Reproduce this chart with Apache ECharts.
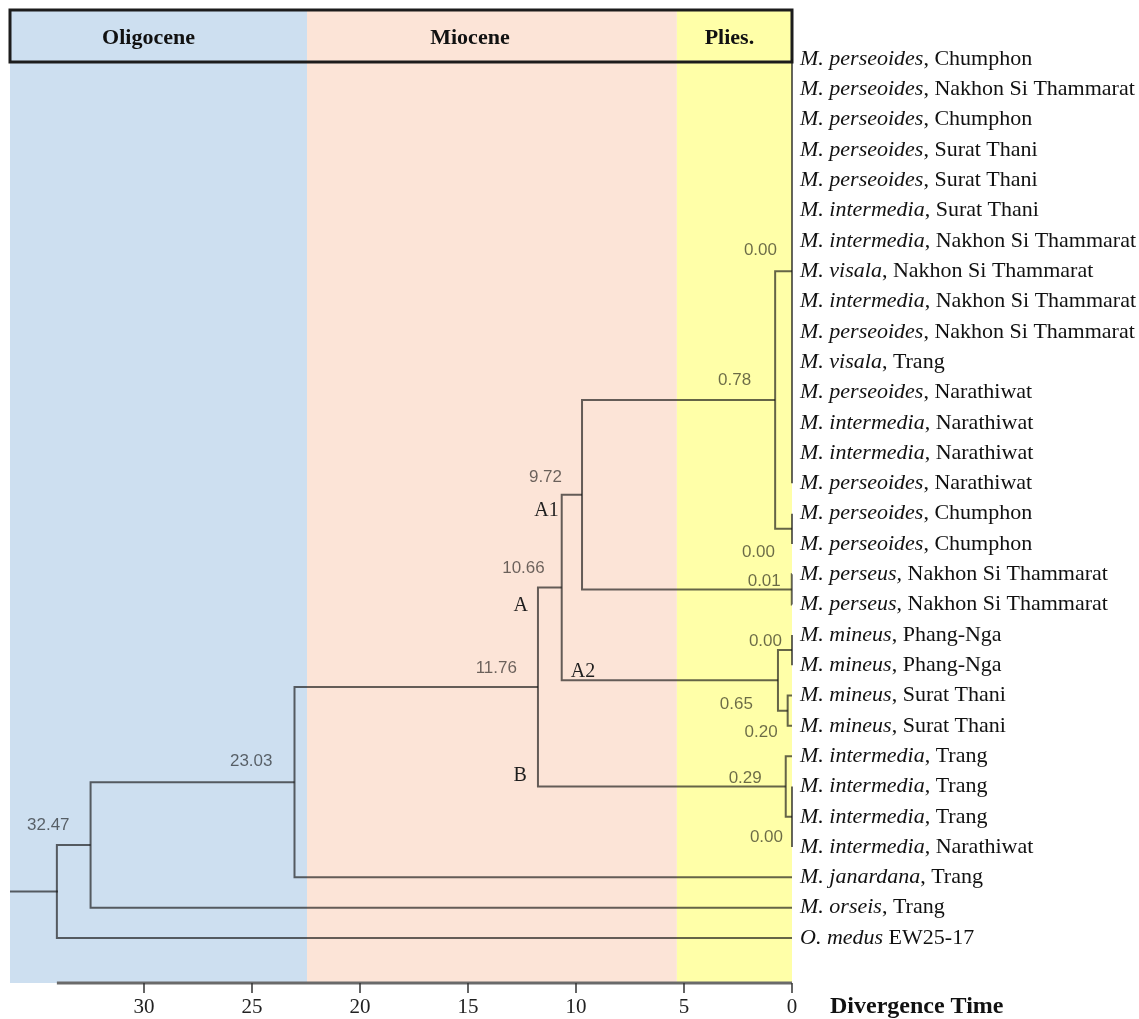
<!DOCTYPE html>
<html><head><meta charset="utf-8">
<script src="https://cdn.jsdelivr.net/npm/echarts@6/dist/echarts.min.js"></script>
<style>html,body{margin:0;padding:0;background:#fff}#c{width:1139px;height:1019px}</style>
</head><body><div id="c"></div>
<script>
// ---------------- data ----------------
const tipSpecies = [
  'M. perseoides','M. perseoides','M. perseoides','M. perseoides','M. perseoides',
  'M. intermedia','M. intermedia','M. visala','M. intermedia','M. perseoides',
  'M. visala','M. perseoides','M. intermedia','M. intermedia','M. perseoides',
  'M. perseoides','M. perseoides','M. perseus,','M. perseus','M. mineus',
  'M. mineus','M. mineus','M. mineus','M. intermedia','M. intermedia',
  'M. intermedia','M. intermedia','M. janardana','M. orseis','O. medus'
];
const tipPlaces = [
  ', Chumphon',', Nakhon Si Thammarat',', Chumphon',', Surat Thani',', Surat Thani',
  ', Surat Thani',', Nakhon Si Thammarat',', Nakhon Si Thammarat',', Nakhon Si Thammarat',', Nakhon Si Thammarat',
  ', Trang',', Narathiwat',', Narathiwat',', Narathiwat',', Narathiwat',
  ', Chumphon',', Chumphon',' Nakhon Si Thammarat',', Nakhon Si Thammarat',', Phang-Nga',
  ', Phang-Nga',', Surat Thani',', Surat Thani',', Trang',', Trang',
  ', Trang',', Narathiwat',', Trang',', Trang',' EW25-17'
];
// internal nodes: name, age (Ma), children (node names or tip indices)
const nodeNames = ['root','n32','n23','n11','nA','nA1','n078','nTop','n16','nPer','nA2','nMin1','nMin2','nB','nB2'];
const nodeAges  = [34.03, 32.47, 23.03, 11.76, 10.66, 9.72, 0.78, 0.00, 0.00, 0.01, 0.65, 0.00, 0.20, 0.29, 0.00];
const nodeChildren = [
  ['n32', 29], ['n23', 28], ['n11', 27], ['nA', 'nB'], ['nA1', 'nA2'], ['n078', 'nPer'],
  ['nTop', 'n16'], [0,1,2,3,4,5,6,7,8,9,10,11,12,13,14], [15, 16], [17, 18],
  ['nMin1', 'nMin2'], [19, 20], [21, 22], [23, 'nB2'], [24, 25, 26]
];
const nodeAgeLabels = ['', '32.47', '23.03', '11.76', '10.66', '9.72', '0.78', '0.00', '0.00', '0.01', '0.65', '0.00', '0.20', '0.29', '0.00'];
const cladeNames = ['A1', 'A', 'A2', 'B'];
const cladeNodes = ['nA1', 'nA', 'nA2', 'nB'];
const eraNames = ['Oligocene', 'Miocene', 'Plies.'];
const eraStart = [36.2, 22.45, 5.33];
const eraEnd   = [22.45, 5.33, 0];
const axisTicks = [0, 5, 10, 15, 20, 25, 30];
const axisTitle = 'Divergence Time';

// ---------------- layout / style ----------------
const X_MAX = 36.2;          // age at left edge of the plot
const Y_MIN = -1.6166, Y_MAX = 30.485; // row units (inverse axis)
const HEADER_BOTTOM = 0.099;
const LINE = 'rgba(22,22,22,0.66)';
const NODE_TXT = 'rgba(0,0,0,0.58)';
const eraColors = ['#cddff0', '#fce4d7', '#ffffa8'];
const eraLabelDx = [-10, -22, -5];
// node label offsets in px (right edge relative to node x, centre relative to branch y)
const labelDx = [0, -21, -22, -21, -17, -20, -24, -15, -17, -11, -25, -10, -10, -24, -9];
const labelDy = [0, -20, -21, -19, -19.5, -17, -19.5, -21, 24, -8, 24, -9, 22, -8, 21];
const cladeParent = ['nA', 'n11', 'nA', 'n11'];
const cladeDx = [-3, -10, 9, -11];
const cladeDy = [16, 18.5, -9, -11];
const cladeAlign = ['right', 'right', 'left', 'right'];

// ---------------- tree layout from data ----------------
const nodeIdx = {}; nodeNames.forEach((n, i) => nodeIdx[n] = i);
const nodeY = [];
function childInfo(c) {
  if (typeof c === 'number') return { age: 0, y: c };
  const i = nodeIdx[c]; return { age: nodeAges[i], y: yOf(i) };
}
function yOf(i) {
  if (nodeY[i] == null) {
    const ys = nodeChildren[i].map(c => childInfo(c).y);
    nodeY[i] = (Math.min(...ys) + Math.max(...ys)) / 2;
  }
  return nodeY[i];
}
nodeNames.forEach((n, i) => yOf(i));

const chart = echarts.init(document.getElementById('c'), null, { renderer: 'canvas', width: 1139, height: 1019 });

function renderTree(params, api) {
  const i = api.value(2);
  const age = api.value(0);
  const kids = nodeChildren[i].map(childInfo).sort((a, b) => a.y - b.y);
  const top = kids[0], bot = kids[kids.length - 1];
  const P = (x, y) => api.coord([x, y]);
  const style = { stroke: LINE, lineWidth: 2, fill: null, lineJoin: 'miter', lineCap: 'butt' };
  const children = [{
    type: 'polyline',
    shape: { points: [P(top.age, top.y), P(age, top.y), P(age, bot.y), P(bot.age, bot.y)] },
    style: style
  }];
  for (let k = 1; k < kids.length - 1; k++) {
    const a = P(age, kids[k].y), b = P(kids[k].age, kids[k].y);
    if (Math.abs(a[0] - b[0]) > 0.5)
      children.push({ type: 'line', shape: { x1: a[0], y1: a[1], x2: b[0], y2: b[1] }, style: style });
  }
  if (i === 0) {
    const a = P(X_MAX, api.value(1)), b = P(age, api.value(1));
    children.push({ type: 'line', shape: { x1: a[0], y1: a[1], x2: b[0] + 1, y2: b[1] }, style: style });
  }
  return { type: 'group', children: children };
}

function renderNodeLabels(params, api) {
  const i = api.value(2);
  const p = api.coord([api.value(0), api.value(1)]);
  return {
    type: 'text', x: p[0] + labelDx[i], y: p[1] + labelDy[i],
    style: { text: nodeAgeLabels[i], fontFamily: 'Liberation Sans', fontSize: 17, fill: NODE_TXT,
      align: 'right', verticalAlign: 'middle', textAlign: 'right', textVerticalAlign: 'middle' }
  };
}

function renderClades(params, api) {
  const k = api.value(2);
  const p = api.coord([api.value(0), api.value(1)]);
  return {
    type: 'text', x: p[0] + cladeDx[k], y: p[1] + cladeDy[k],
    style: { text: cladeNames[k], fontFamily: 'Liberation Serif', fontSize: 20, fill: '#1e1e1e',
      align: cladeAlign[k], verticalAlign: 'middle', textAlign: cladeAlign[k], textVerticalAlign: 'middle' }
  };
}

function renderTips(params, api) {
  const i = api.value(2);
  const p = api.coord([api.value(0), api.value(1)]);
  return {
    type: 'text', x: p[0] + 8, y: p[1],
    style: {
      text: '{i|' + tipSpecies[i] + '}' + tipPlaces[i],
      rich: { i: { fontStyle: 'italic', fontFamily: 'Liberation Serif', fontSize: 22, fill: '#111' } },
      fontFamily: 'Liberation Serif', fontSize: 22, fill: '#111',
      align: 'left', verticalAlign: 'middle', textAlign: 'left', textVerticalAlign: 'middle'
    }
  };
}

function renderEraText(params, api) {
  const k = api.value(2);
  const p = api.coord([api.value(0), api.value(1)]);
  return {
    type: 'text', x: p[0] + eraLabelDx[k], y: p[1] + 2,
    style: { text: eraNames[k], fontFamily: 'Liberation Serif', fontWeight: 'bold', fontSize: 22, fill: '#111',
      align: 'center', verticalAlign: 'middle', textAlign: 'center', textVerticalAlign: 'middle' }
  };
}

function renderAxisLine(params, api) {
  const a = api.coord([api.value(0), api.value(1)]);
  const b = api.coord([0, api.value(1)]);
  return { type: 'line', shape: { x1: a[0], y1: a[1], x2: b[0], y2: b[1] },
    style: { stroke: '#6a6a6a', lineWidth: 3 } };
}

const headerMid = (Y_MIN + HEADER_BOTTOM) / 2;

const option = {
  animation: false,
  backgroundColor: '#ffffff',
  grid: { left: 10, right: 347, top: 10, bottom: 36, containLabel: false },
  xAxis: {
    type: 'value', min: 0, max: X_MAX, inverse: true, z: 10, position: 'bottom',
    axisLine: { show: false, onZero: false }, splitLine: { show: false },
    axisTick: { show: true, inside: false, length: 10, customValues: axisTicks, lineStyle: { color: '#333', width: 1.5 } },
    axisLabel: { customValues: axisTicks, margin: 14, fontFamily: 'Liberation Serif', fontSize: 21, color: '#222' }
  },
  yAxis: { type: 'value', min: Y_MIN, max: Y_MAX, inverse: true, show: false },
  graphic: [{
    type: 'text', x: 830, y: 1007,
    style: { text: axisTitle, fontFamily: 'Liberation Serif', fontWeight: 'bold', fontSize: 24, fill: '#111',
      align: 'left', verticalAlign: 'middle', textAlign: 'left', textVerticalAlign: 'middle' }
  }],
  series: [
    {
      type: 'line', z: 1, data: [[0, Y_MIN]], symbolSize: 0, showSymbol: false, lineStyle: { opacity: 0 }, silent: true,
      markArea: {
        silent: true,
        data: eraNames.map((n, k) => [
          { xAxis: eraStart[k], yAxis: Y_MIN, itemStyle: { color: eraColors[k] } },
          { xAxis: eraEnd[k], yAxis: Y_MAX }
        ])
      }
    },
    {
      type: 'custom', z: 3, clip: false, silent: true,
      data: nodeNames.map((n, i) => [nodeAges[i], nodeY[i], i]),
      encode: { x: 0, y: 1 },
      renderItem: renderTree
    },
    {
      type: 'custom', z: 3, clip: false, silent: true,
      data: [[nodeAges[0], Y_MAX, 0]],
      encode: { x: 0, y: 1 },
      renderItem: renderAxisLine
    },
    {
      type: 'custom', z: 4, clip: false, silent: true,
      data: nodeNames.map((n, i) => [nodeAges[i], nodeY[i], i]).filter(d => nodeAgeLabels[d[2]] !== ''),
      encode: { x: 0, y: 1 },
      renderItem: renderNodeLabels
    },
    {
      type: 'custom', z: 4, clip: false, silent: true,
      data: cladeNames.map((c, k) => [nodeAges[nodeIdx[cladeParent[k]]], nodeY[nodeIdx[cladeNodes[k]]], k]),
      encode: { x: 0, y: 1 },
      renderItem: renderClades
    },
    {
      type: 'custom', z: 4, clip: false, silent: true,
      data: tipSpecies.map((s, i) => [0, i, i]),
      encode: { x: 0, y: 1 },
      renderItem: renderTips
    },
    {
      type: 'custom', z: 5, clip: false, silent: true,
      data: eraNames.map((n, k) => [(eraStart[k] + eraEnd[k]) / 2, headerMid, k]),
      encode: { x: 0, y: 1 },
      renderItem: renderEraText,
      markArea: {
        silent: true,
        data: [[
          { xAxis: X_MAX, yAxis: Y_MIN, itemStyle: { color: 'rgba(0,0,0,0)', borderColor: '#1c1c1c', borderWidth: 3 } },
          { xAxis: 0, yAxis: HEADER_BOTTOM }
        ]]
      }
    }
  ]
};
chart.setOption(option);
</script>
</body></html>
